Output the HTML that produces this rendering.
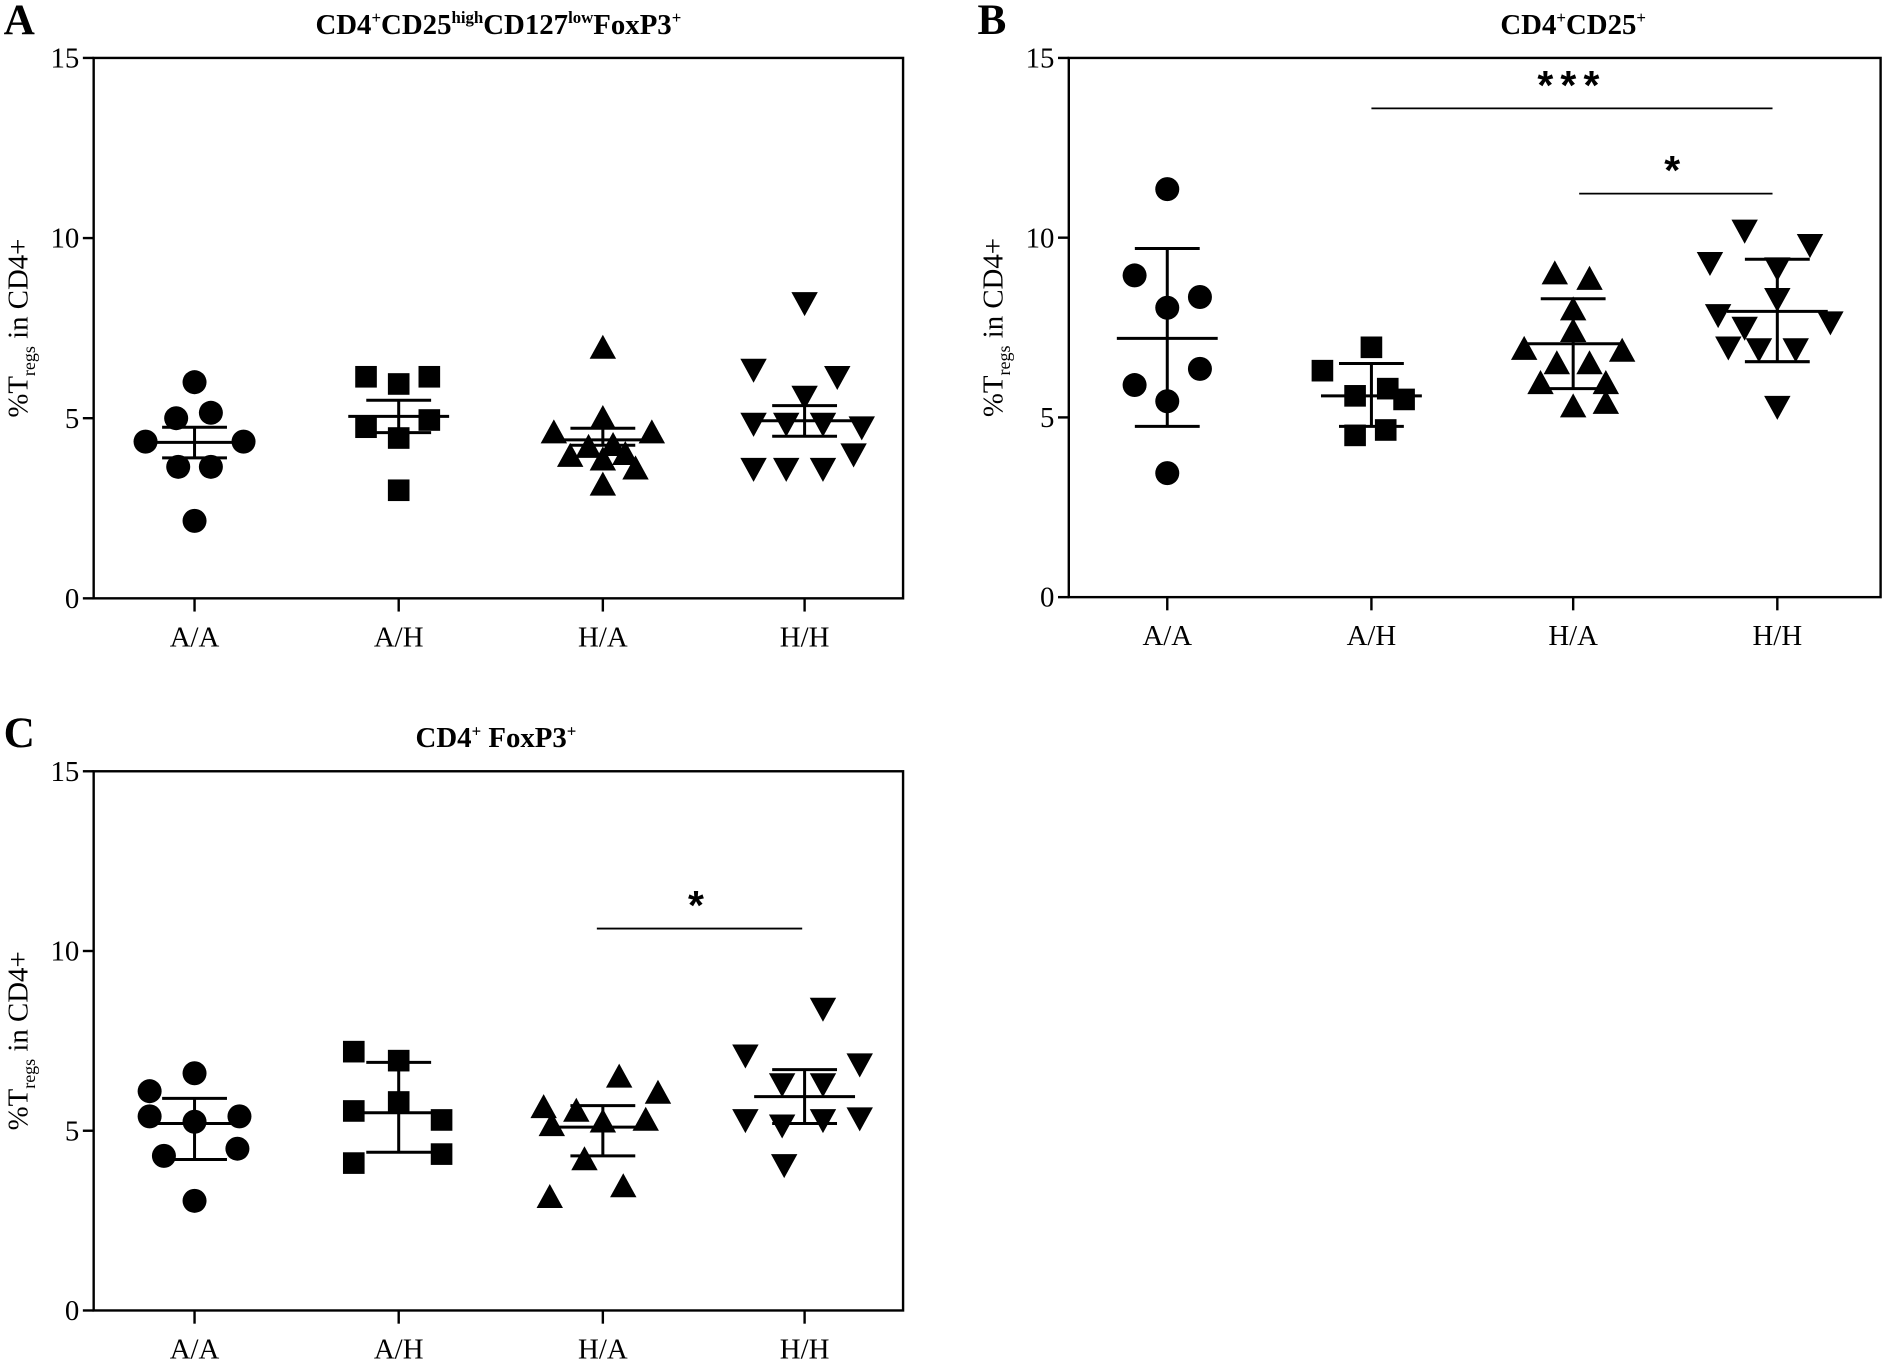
<!DOCTYPE html>
<html><head><meta charset="utf-8"><style>
html,body{margin:0;padding:0;background:#fff;}
svg{display:block;font-family:"Liberation Serif",serif;}
</style></head><body>
<svg id="fig" width="1883" height="1360" viewBox="0 0 1568 1132" xmlns="http://www.w3.org/2000/svg">
<rect width="1568" height="1132" fill="#fff"/>
</svg>
<script>
const categories = ["A/A","A/H","H/A","H/H"];
const yTicks = [0,5,10,15];
// Panel A values
const aAA = [6.0,5.0,5.15,4.35,4.35,3.65,3.65,2.15];
const aAH = [6.15,5.95,6.15,4.75,4.95,4.45,3.0];
const aHA = [6.95,5.0,4.6,4.6,3.95,4.0,4.2,4.25,3.85,3.6,3.15];
const aHH = [8.2,6.35,6.15,5.6,4.85,4.85,4.85,4.75,4.0,3.6,3.6,3.6];
const aMean = [4.33,5.05,4.4,4.93];
const aHi = [4.75,5.5,4.72,5.35];
const aLo = [3.9,4.6,4.25,4.5];
// Panel B values
const bAA = [11.35,8.95,8.35,8.05,6.35,5.9,5.45,3.45];
const bAH = [6.95,6.3,5.6,5.8,5.5,4.5,4.65];
const bHA = [9.0,8.85,8.0,6.9,6.85,7.4,6.5,6.5,5.95,5.95,5.3,5.4];
const bHH = [10.2,9.8,9.3,9.15,8.3,7.85,7.5,7.65,6.95,6.9,6.9,5.3];
const bMean = [7.2,5.6,7.05,7.95];
const bHi = [9.7,6.5,8.3,9.4];
const bLo = [4.75,4.75,5.8,6.55];
// Panel C values
const cAA = [6.6,6.1,5.4,5.4,5.25,4.5,4.3,3.05];
const cAH = [7.2,6.95,5.8,5.55,5.3,4.35,4.1];
const cHA = [6.5,6.05,5.65,5.55,5.3,5.25,5.15,4.2,3.15,3.45];
const cHH = [8.4,7.1,6.85,6.3,6.3,5.3,5.15,5.3,5.35,4.05];
const cMean = [5.2,5.5,5.1,5.95];
const cHi = [5.9,6.9,5.7,6.7];
const cLo = [4.2,4.4,4.3,5.2];
// jitter (fraction of category spacing)
const jAA = [0,-0.09,0.08,-0.24,0.24,-0.08,0.08,0];
const jAH = [-0.16,0,0.15,-0.16,0.15,0,0];
const jHA12 = [0,0,-0.24,0.24,-0.16,0.11,-0.07,0.05,0,0.16,0,0.21];
const jHH = [0,-0.25,0.16,0,-0.25,-0.09,0.09,0.28,0.24,-0.25,-0.09,0.09];
const jB_HA = [-0.09,0.08,0,-0.24,0.24,0,-0.08,0.08,-0.16,0.16,0,0.16];
const jB_HH = [-0.16,0.16,-0.33,0,0,-0.29,-0.16,0.26,-0.24,-0.09,0.09,0];
const jB_AA = [0,-0.16,0.16,0,0.16,-0.16,0,0];
const jB_AH = [0,-0.24,-0.08,0.08,0.16,-0.08,0.07];
const jC_AA = [0,-0.22,0.22,-0.22,0,0.21,-0.15,0];
const jC_AH = [-0.22,0,0,-0.22,0.21,0.21,-0.22];
const jC_HA = [0.08,0.27,-0.29,-0.13,0.21,0,-0.25,-0.09,-0.26,0.1];
const jC_HH = [0.09,-0.29,0.27,-0.11,0.09,-0.29,-0.11,0.09,0.27,-0.1];

const NS="http://www.w3.org/2000/svg";
const svg=document.getElementById('fig');
function el(tag,attrs,parent){const e=document.createElementNS(NS,tag);for(const k in attrs)e.setAttribute(k,attrs[k]);(parent||svg).appendChild(e);return e;}

function panel(cfg){
  const g=el('g',{});
  
  
  const {x0,x1,yTop,yBot,cx}=cfg;
  const ys=v=>yBot-(v/15)*(yBot-yTop);
  const sp=170;
  const frame=el('rect',{x:x0,y:yTop,width:x1-x0,height:yBot-yTop,fill:'none',stroke:'#000','stroke-width':2},g);
  
  
  yTicks.forEach(t=>{
    el('line',{x1:x0-9,x2:x0,y1:ys(t),y2:ys(t),stroke:'#000','stroke-width':2},g);
    const tx=el('text',{x:x0-12,y:ys(t)+8,'text-anchor':'end','font-size':24},g);
    tx.textContent=t;
    
    
  });
  categories.forEach((c,i)=>{
    el('line',{x1:cx[i],x2:cx[i],y1:yBot,y2:yBot+11,stroke:'#000','stroke-width':2},g);
    const tx=el('text',{x:cx[i],y:yBot+40,'text-anchor':'middle','font-size':24},g);
    tx.textContent=c;
    
    
  });
  const yl=el('text',{transform:`translate(${x0-55},${(yTop+yBot)/2}) rotate(-90)`,'text-anchor':'middle','font-size':24},g);
  yl.innerHTML='%T<tspan font-size="15" dy="6">regs</tspan><tspan dy="-6"> in CD4+</tspan>';
  
  
  const lb=el('text',{x:cfg.lx,y:cfg.ly,'font-size':36,'font-weight':'bold'},g);
  lb.textContent=cfg.id;
  
  
  const tt=el('text',{x:cfg.tx,y:cfg.ty,'text-anchor':'middle','font-size':24,'font-weight':'bold'},g);
  tt.innerHTML=cfg.title;
  
  
  const shapes=['circle','square','up','down'];
  cfg.series.forEach((vals,i)=>{
    vals.forEach((v,k)=>{
      const x=cx[i]+cfg.jit[i][k]*sp, y=ys(v);
      let m;
      if(shapes[i]==='circle') m=el('circle',{cx:x,cy:y,r:10},g);
      else if(shapes[i]==='square') m=el('rect',{x:x-9,y:y-9,width:18,height:18},g);
      else if(shapes[i]==='up') m=el('polygon',{points:`${x},${y-11} ${x+11},${y+9} ${x-11},${y+9}`},g);
      else m=el('polygon',{points:`${x},${y+11} ${x+11},${y-9} ${x-11},${y-9}`},g);
      m.setAttribute('fill','#000');
      
      
    });
    const ml=el('line',{x1:cx[i]-42,x2:cx[i]+42,y1:ys(cfg.mean[i]),y2:ys(cfg.mean[i]),stroke:'#000','stroke-width':2.5},g);
    
    
    el('line',{x1:cx[i],x2:cx[i],y1:ys(cfg.hi[i]),y2:ys(cfg.lo[i]),stroke:'#000','stroke-width':2.5},g);
    el('line',{x1:cx[i]-27,x2:cx[i]+27,y1:ys(cfg.hi[i]),y2:ys(cfg.hi[i]),stroke:'#000','stroke-width':2.5},g);
    el('line',{x1:cx[i]-27,x2:cx[i]+27,y1:ys(cfg.lo[i]),y2:ys(cfg.lo[i]),stroke:'#000','stroke-width':2.5},g);
  });
  (cfg.sig||[]).forEach(s=>{
    const l=el('line',{x1:s[0],x2:s[1],y1:s[2],y2:s[2],stroke:'#000','stroke-width':1.5},g);
    
    
    const t=el('text',{x:(s[0]+s[1])/2,y:s[2]-8,'text-anchor':'middle','font-size':34,'font-weight':'bold','font-family':'Liberation Sans, sans-serif','letter-spacing':6},g);
    t.textContent=s[3];
    
    
  });
}
const cxA=[162,332,502,670], cxB=[972,1142,1310,1480];
panel({id:'A',x0:78,x1:752,yTop:48,yBot:498,cx:cxA,lx:3,ly:28,tx:415,ty:28,
  title:'CD4<tspan font-size="14" dy="-9">+</tspan><tspan dy="9">CD25</tspan><tspan font-size="14" dy="-9">high</tspan><tspan dy="9">CD127</tspan><tspan font-size="14" dy="-9">low</tspan><tspan dy="9">FoxP3</tspan><tspan font-size="14" dy="-9">+</tspan>',
  series:[aAA,aAH,aHA,aHH],jit:[jAA,jAH,jHA12,jHH],mean:aMean,hi:aHi,lo:aLo});
panel({id:'B',x0:890,x1:1566,yTop:48,yBot:497,cx:cxB,lx:814,ly:28,tx:1310,ty:28,
  title:'CD4<tspan font-size="14" dy="-9">+</tspan><tspan dy="9">CD25</tspan><tspan font-size="14" dy="-9">+</tspan>',
  series:[bAA,bAH,bHA,bHH],jit:[jB_AA,jB_AH,jB_HA,jB_HH],mean:bMean,hi:bHi,lo:bLo,
  sig:[[1142,1476,90,'***'],[1315,1476,161,'*']]});
panel({id:'C',x0:78,x1:752,yTop:642,yBot:1091,cx:cxA,lx:3,ly:622,tx:413,ty:622,
  title:'CD4<tspan font-size="14" dy="-9">+</tspan><tspan dy="9"> FoxP3</tspan><tspan font-size="14" dy="-9">+</tspan>',
  series:[cAA,cAH,cHA,cHH],jit:[jC_AA,jC_AH,jC_HA,jC_HH],mean:cMean,hi:cHi,lo:cLo,
  sig:[[497,668,773,'*']]});
</script>
</body></html>
